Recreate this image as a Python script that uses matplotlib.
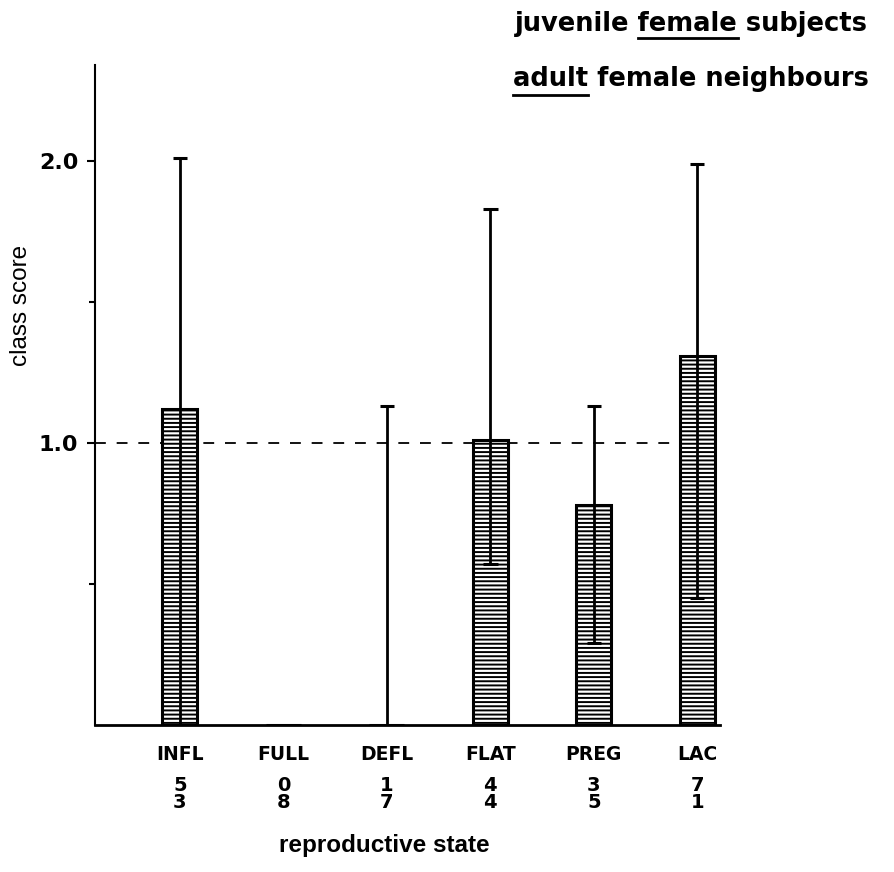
import matplotlib
matplotlib.use('Agg')
import matplotlib.pyplot as plt
import matplotlib.transforms as mtransforms

# Data
states = ['INFL', 'FULL', 'DEFL', 'FLAT', 'PREG', 'LAC']
scores = [1.12, 0.0, 0.0, 1.01, 0.78, 1.31]
err_low = [0.0, 0.0, 0.0, 0.57, 0.29, 0.45]
err_high = [2.01, 0.0, 1.13, 1.83, 1.13, 1.99]
n_juvenile = [5, 0, 1, 4, 3, 7]
n_adult = [3, 8, 7, 4, 5, 1]

plt.rcParams['font.family'] = ['Liberation Sans', 'DejaVu Sans']
plt.rcParams['hatch.linewidth'] = 1.4
WIDE = 'DejaVu Sans'

fig = plt.figure(figsize=(8.95, 8.72), dpi=100)
ax = fig.add_axes([95 / 895, 1 - 725 / 872, 625 / 895, 660 / 872])

x = list(range(len(states)))
ax.bar(x, scores, width=0.34, color='white', edgecolor='black',
       linewidth=2.2, hatch='----', zorder=2)

# error bars (only where there is a range)
for xi, s, lo, hi in zip(x, scores, err_low, err_high):
    if hi <= 0:
        continue
    ax.vlines(xi, lo, hi, color='black', linewidth=2, zorder=3)
    ax.hlines(hi, xi - 0.07, xi + 0.07, color='black', linewidth=2.2, zorder=3)
    if lo > 0:
        ax.hlines(lo, xi - 0.07, xi + 0.07, color='black', linewidth=2.2, zorder=3)

ax.axhline(1.0, color='black', linestyle=(0, (6, 6)), linewidth=1.3, zorder=1)

ax.set_xlim(-0.82, 5.22)
ax.set_ylim(0, 2.34)
ax.spines['top'].set_visible(False)
ax.spines['right'].set_visible(False)
ax.spines['left'].set_linewidth(1.5)
ax.spines['bottom'].set_linewidth(2)

ax.set_yticks([1.0, 2.0])
ax.set_yticklabels(['1.0', '2.0'], fontsize=16, fontweight='bold', family=WIDE)
ax.set_yticks([0.5, 1.5], minor=True)
ax.tick_params(axis='y', which='major', length=6, width=1.5, pad=6)
ax.tick_params(axis='y', which='minor', length=4, width=1.5)
ax.set_xticks([])

trans = mtransforms.blended_transform_factory(ax.transData, ax.transAxes)
for xi, name, nj, na in zip(x, states, n_juvenile, n_adult):
    ax.text(xi, -0.045, name, transform=trans, ha='center', va='center',
            fontsize=13.5, fontweight='bold', family=WIDE)
    ax.text(xi, -0.091, str(nj), transform=trans, ha='center', va='center',
            fontsize=14, fontweight='bold', family=WIDE)
    ax.text(xi, -0.118, str(na), transform=trans, ha='center', va='center',
            fontsize=14, fontweight='bold', family=WIDE)

fig.text(384 / 895, 1 - 845 / 872, 'reproductive state', ha='center', va='center',
         fontsize=17.5, fontweight='bold')
fig.text(21 / 895, 1 - 305 / 872, 'class score', rotation=90, ha='center',
         va='center', fontsize=17.5)

# legend-like captions with underlined key words
legend_lines = [('juvenile female subjects', 'juvenile ', 'female', 515, 31, 7),
                ('adult female neighbours', '', 'adult', 513, 86, 9)]
renderer = fig.canvas.get_renderer()
for full, prefix, word, px, py, gap in legend_lines:
    t = fig.text(px / 895, 1 - py / 872, full, ha='left', va='baseline',
                 fontsize=18.5, fontweight='bold', family=WIDE)
    bb = t.get_window_extent(renderer)
    tmp = fig.text(0, 0, (prefix + word).strip(), fontsize=18.5, fontweight='bold',
                   family=WIDE)
    w_all = tmp.get_window_extent(renderer).width
    tmp.set_text(word)
    w_word = tmp.get_window_extent(renderer).width
    tmp.remove()
    x1 = bb.x0 + w_all
    x0 = x1 - w_word
    yline = (872 - py - gap) / 872
    fig.add_artist(plt.Line2D([x0 / 895, x1 / 895], [yline, yline],
                              color='black', linewidth=2, transform=fig.transFigure))

fig.savefig('out.png', dpi=100)
